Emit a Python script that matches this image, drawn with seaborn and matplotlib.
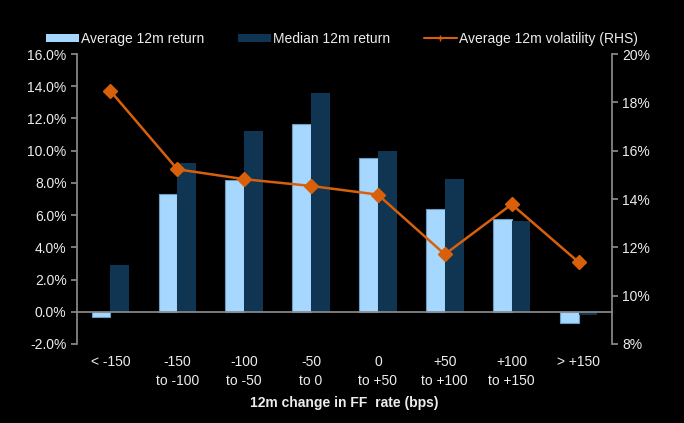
import matplotlib
matplotlib.use("Agg")
import matplotlib.pyplot as plt
import matplotlib.ticker as mticker
import numpy as np
import pandas as pd
import seaborn as sns

# ---------------- data ---------------- #
categories = ['< -150', '-150\nto -100', '-100\nto -50', '-50\nto 0',
              '0\nto +50', '+50\nto +100', '+100\nto +150', '> +150']
avg_return = [-0.33, 7.33, 8.17, 11.68, 9.56, 6.37, 5.78, -0.68]
median_return = [2.89, 9.25, 11.2, 13.6, 9.95, 8.26, 5.61, -0.21]
avg_vol = [18.47, 15.23, 14.82, 14.54, 14.18, 11.71, 13.78, 11.39]

light_blue = '#A6D8FF'
dark_blue = '#0F3552'
orange = '#D9600A'
txt = '#EDEDED'
grey = '#8A8A8A'
fs = 10

sns.set_theme(style='dark')
plt.rcParams['font.family'] = ['Liberation Sans', 'DejaVu Sans']

df = pd.DataFrame({
    'bucket': categories * 2,
    'value': avg_return + median_return,
    'series': ['Average 12m return'] * 8 + ['Median 12m return'] * 8,
})

fig = plt.figure(figsize=(6.84, 4.23), dpi=100, facecolor='black')
ax = fig.add_axes([0.1126, 0.1868, 0.7821, 0.6855])
ax.set_facecolor('black')

sns.barplot(data=df, x='bucket', y='value', hue='series', order=categories,
            palette=[light_blue, dark_blue], width=0.56, ax=ax,
            saturation=1, legend=False)
for p in ax.patches:
    fc = p.get_facecolor()
    if np.allclose(fc[:3], matplotlib.colors.to_rgb(light_blue), atol=0.02):
        p.set_edgecolor('#6C9CC0')
        p.set_linewidth(0.8)
    else:
        p.set_edgecolor('none')

ax.set_xlim(-0.5, 7.5)
ax.set_ylim(-2, 16)
ax.set_yticks(np.arange(-2, 16.1, 2))
ax.yaxis.set_major_formatter(mticker.FuncFormatter(lambda v, _: '%.1f%%' % v))
ax.grid(False)

# x axis sits at zero, ticks between categories, labels below the plot
for s in ['top', 'right']:
    ax.spines[s].set_visible(False)
ax.spines['bottom'].set_position(('data', 0))
ax.spines['bottom'].set_color(grey)
ax.spines['left'].set_color(grey)
ax.set_xticks(np.arange(8))
ax.set_xticklabels(categories, color=txt, fontsize=fs, linespacing=1.45)
ax.set_xticks(np.arange(0.5, 7.5, 1), minor=True)
ax.tick_params(axis='x', which='major', length=0, pad=31)
ax.tick_params(axis='x', which='minor', length=4, color=grey, direction='out')
ax.tick_params(axis='y', length=4, color=grey, direction='out', labelcolor=txt,
               labelsize=fs, left=True)
ax.set_xlabel('12m change in FF  rate (bps)', color=txt, fontsize=fs,
              fontweight='bold', labelpad=6)
ax.set_ylabel('')

# volatility on right axis
ax2 = ax.twinx()
ax2.plot(np.arange(8), avg_vol, color=orange, lw=1.8, marker='D',
         markersize=7, label='Average 12m volatility (RHS)')
ax2.set_ylim(8, 20)
ax2.set_yticks(np.arange(8, 20.1, 2))
ax2.yaxis.set_major_formatter(mticker.FuncFormatter(lambda v, _: '%d%%' % v))
for s in ['top', 'left', 'bottom']:
    ax2.spines[s].set_visible(False)
ax2.spines['right'].set_color(grey)
ax2.tick_params(axis='y', length=4, color=grey, direction='out', labelcolor=txt,
                labelsize=fs, right=True)
ax2.grid(False)

# legend
handles = [
    matplotlib.patches.Patch(facecolor=light_blue, edgecolor='none',
                             label='Average 12m return'),
    matplotlib.patches.Patch(facecolor=dark_blue, edgecolor='none',
                             label='Median 12m return'),
    matplotlib.lines.Line2D([], [], color=orange, lw=1.5, marker='+',
                            markersize=5, label='Average 12m volatility (RHS)'),
]
fig.legend(handles=handles, loc='center', bbox_to_anchor=(0.5, 0.908), ncol=3,
           frameon=False, fontsize=fs, labelcolor=txt, handlelength=2.4,
           handleheight=0.55, handletextpad=0.15, columnspacing=2.4)

fig.savefig('out.png', dpi=100, facecolor='black')
